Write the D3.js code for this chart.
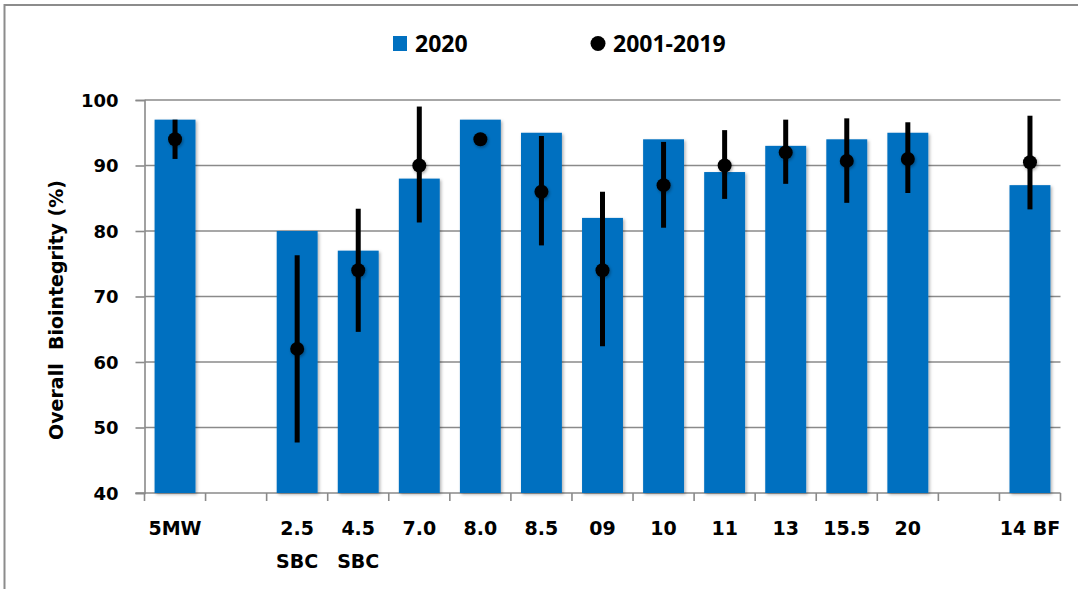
<!DOCTYPE html>
<html>
<head>
<meta charset="utf-8">
<script src="https://cdn.jsdelivr.net/npm/d3@7"></script>
<style>
  html, body { margin: 0; padding: 0; background: #fff; }
  svg { display: block; }
</style>
</head>
<body>
<svg id="chart" width="1078" height="589"></svg>
<script>
// Sampling stations along the x axis; blank entries are spacer slots
const slots = ["5MW", "", "2.5\nSBC", "4.5\nSBC", "7.0", "8.0", "8.5", "09", "10", "11", "13", "15.5", "20", " ", "14 BF"];
const categories = ["5MW", "2.5\nSBC", "4.5\nSBC", "7.0", "8.0", "8.5", "09", "10", "11", "13", "15.5", "20", "14 BF"];

// 2020 overall biointegrity (%)
const values2020 = [97, 80, 77, 88, 97, 95, 82, 94, 89, 93, 94, 95, 87];
// 2001-2019 mean and range
const histMean = [94, 62, 74, 90, 94, 86, 74, 87, 90, 92, 90.7, 91, 90.5];
const histLow  = [91, 47.7, 64.6, 81.3, 94, 77.8, 62.4, 80.5, 84.9, 87.2, 84.3, 85.8, 83.3];
const histHigh = [97, 76.3, 83.4, 99, 94, 94.5, 86, 93.6, 95.4, 97, 97.2, 96.6, 97.6];

const yTicks = [40, 50, 60, 70, 80, 90, 100];
const seriesNames = ["2020", "2001-2019"];

const svg = d3.select("#chart");
const blue = "#0070C0";
const gridColor = "#8a8a8a";
const mainFont = "'DejaVu Sans', sans-serif";

const plot = { left: 144.5, right: 1060.5, top: 100, bottom: 493 };

const x = d3.scaleBand()
  .domain(slots)
  .range([plot.left, plot.right])
  .paddingInner(0.33)
  .paddingOuter(0.165);

const y = d3.scaleLinear()
  .domain([40, 100])
  .range([plot.bottom, plot.top]);

// Soft shadows under bars and markers
const defs = svg.append("defs");
defs.append("filter").attr("id", "barShadow")
  .attr("x", "-20%").attr("y", "-20%").attr("width", "140%").attr("height", "140%")
  .append("feDropShadow")
  .attr("dx", 1.5).attr("dy", 1.5).attr("stdDeviation", 1.5)
  .attr("flood-color", "#000").attr("flood-opacity", 0.3);
defs.append("filter").attr("id", "dotShadow")
  .attr("x", "-50%").attr("y", "-50%").attr("width", "200%").attr("height", "200%")
  .append("feDropShadow")
  .attr("dx", 1).attr("dy", 1.5).attr("stdDeviation", 1.5)
  .attr("flood-color", "#000").attr("flood-opacity", 0.35);

// Outer frame
svg.append("rect")
  .attr("x", 4.5).attr("y", 5)
  .attr("width", 1100).attr("height", 620)
  .attr("fill", "none")
  .attr("stroke", "#8c8c8c")
  .attr("stroke-width", 2);

// Horizontal gridlines
svg.append("g")
  .selectAll("line")
  .data(yTicks.filter(d => d > 40))
  .join("line")
  .attr("x1", plot.left).attr("x2", plot.right)
  .attr("y1", d => y(d)).attr("y2", d => y(d))
  .attr("stroke", gridColor)
  .attr("stroke-width", 1.6);

// Y axis
const yAxis = d3.axisLeft(y).tickValues(yTicks).tickSize(9).tickPadding(17);
const gy = svg.append("g")
  .attr("transform", `translate(${plot.left},0)`)
  .call(yAxis);
gy.select(".domain").attr("stroke", gridColor).attr("stroke-width", 1.6);
gy.selectAll(".tick line").attr("stroke", gridColor).attr("stroke-width", 1.6);
gy.selectAll(".tick text")
  .style("font-family", mainFont)
  .style("font-weight", "bold")
  .style("font-size", "18px")
  .attr("fill", "#000")
  .attr("dy", "0.36em");

// X axis: baseline plus tick marks on slot boundaries
const gx = svg.append("g");
gx.append("line")
  .attr("x1", plot.left - 9).attr("x2", plot.right)
  .attr("y1", plot.bottom).attr("y2", plot.bottom)
  .attr("stroke", gridColor).attr("stroke-width", 1.6);
const boundaries = slots.map(s => x(s) - x.step() * x.paddingInner() / 2)
  .concat([plot.right]);
gx.selectAll("line.tk")
  .data(boundaries)
  .join("line")
  .attr("class", "tk")
  .attr("x1", d => d).attr("x2", d => d)
  .attr("y1", plot.bottom).attr("y2", plot.bottom + 8)
  .attr("stroke", gridColor).attr("stroke-width", 1.6);

// Category labels (multi-line)
const labels = gx.selectAll("text.cat")
  .data(categories)
  .join("text")
  .attr("class", "cat")
  .attr("text-anchor", "middle")
  .style("font-family", mainFont)
  .style("font-weight", "bold")
  .style("font-size", "19px")
  .attr("fill", "#000")
  .attr("x", d => x(d) + x.bandwidth() / 2)
  .attr("y", 535);
labels.each(function(d) {
  const parts = d.split("\n");
  d3.select(this).selectAll("tspan")
    .data(parts)
    .join("tspan")
    .attr("x", x(d) + x.bandwidth() / 2)
    .attr("dy", (p, i) => i === 0 ? 0 : 33)
    .text(p => p);
});

// 2020 bars
svg.append("g")
  .selectAll("rect")
  .data(categories)
  .join("rect")
  .attr("x", d => x(d))
  .attr("width", x.bandwidth())
  .attr("y", (d, i) => y(values2020[i]))
  .attr("height", (d, i) => y(40) - y(values2020[i]))
  .attr("fill", blue)
  .attr("filter", "url(#barShadow)");

// 2001-2019 range bars
svg.append("g")
  .selectAll("line")
  .data(categories)
  .join("line")
  .attr("x1", d => x(d) + x.bandwidth() / 2)
  .attr("x2", d => x(d) + x.bandwidth() / 2)
  .attr("y1", (d, i) => y(histHigh[i]))
  .attr("y2", (d, i) => y(histLow[i]))
  .attr("stroke", "#000")
  .attr("stroke-width", 5);

// 2001-2019 means
svg.append("g")
  .selectAll("circle")
  .data(categories)
  .join("circle")
  .attr("cx", d => x(d) + x.bandwidth() / 2)
  .attr("cy", (d, i) => y(histMean[i]))
  .attr("r", 7)
  .attr("fill", "#000")
  .attr("filter", "url(#dotShadow)");

// Y axis title
svg.append("text")
  .attr("transform", "translate(63,310) rotate(-90)")
  .attr("text-anchor", "middle")
  .style("font-family", mainFont)
  .style("font-weight", "bold")
  .style("font-size", "19px")
  .style("white-space", "pre")
  .attr("fill", "#000")
  .text("Overall  Biointegrity (%)");

// Legend
const legend = svg.append("g");
legend.append("rect")
  .attr("x", 393).attr("y", 36)
  .attr("width", 14).attr("height", 15)
  .attr("fill", blue);
legend.append("text")
  .attr("x", 415).attr("y", 52)
  .style("font-family", "'Open Sans', sans-serif")
  .style("font-weight", "bold")
  .style("font-size", "23px")
  .attr("fill", "#000")
  .text(seriesNames[0]);
legend.append("circle")
  .attr("cx", 598).attr("cy", 43.5).attr("r", 7.5)
  .attr("fill", "#000");
legend.append("text")
  .attr("x", 613).attr("y", 52)
  .style("font-family", "'Open Sans', sans-serif")
  .style("font-weight", "bold")
  .style("font-size", "23px")
  .attr("fill", "#000")
  .text(seriesNames[1]);
</script>
</body>
</html>
